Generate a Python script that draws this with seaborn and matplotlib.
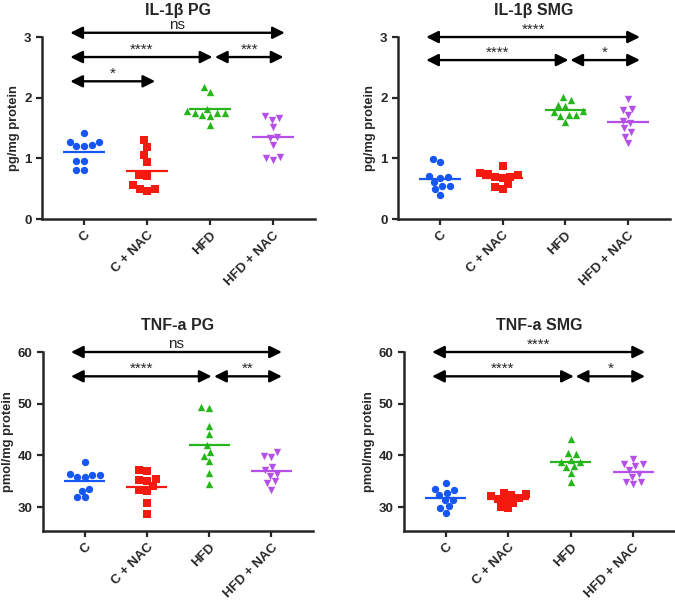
import numpy as np
import matplotlib
matplotlib.use("Agg")
import matplotlib.pyplot as plt
import seaborn as sns

custom_params = {"axes.spines.right": False, "axes.spines.top": False}
sns.set_theme(style="ticks", rc=custom_params)
plt.rcParams['font.family'] = ['Liberation Sans', 'DejaVu Sans']

groups = ["C", "C + NAC", "HFD", "HFD + NAC"]
colors = ["#1556F5", "#F41A0F", "#26B51A", "#B44FE8"]
markers = ["o", "s", "^", "v"]

# IL-1b PG (pg/mg protein)
il1b_pg_c = [1.41, 1.27, 1.27, 1.22, 1.20, 1.20, 0.96, 0.96, 0.81, 0.81]
il1b_pg_cnac = [1.30, 1.19, 1.05, 0.94, 0.71, 0.72, 0.56, 0.49, 0.49, 0.46]
il1b_pg_hfd = [2.18, 2.10, 1.81, 1.78, 1.75, 1.75, 1.74, 1.71, 1.70, 1.55]
il1b_pg_hfdnac = [1.69, 1.67, 1.64, 1.52, 1.36, 1.33, 1.22, 1.03, 1.01, 0.97]

# IL-1b SMG (pg/mg protein)
il1b_smg_c = [0.99, 0.94, 0.71, 0.70, 0.68, 0.61, 0.55, 0.54, 0.49, 0.40]
il1b_smg_cnac = [0.87, 0.76, 0.74, 0.72, 0.70, 0.69, 0.67, 0.58, 0.53, 0.49]
il1b_smg_hfd = [2.01, 1.96, 1.88, 1.87, 1.78, 1.77, 1.71, 1.71, 1.69, 1.60]
il1b_smg_hfdnac = [1.97, 1.81, 1.80, 1.71, 1.62, 1.58, 1.50, 1.44, 1.36, 1.25]

# TNF-a PG (pmol/mg protein)
tnf_pg_c = [38.8, 36.4, 36.2, 36.2, 35.9, 35.8, 33.6, 33.2, 31.9, 31.9]
tnf_pg_cnac = [37.2, 37.0, 35.4, 35.2, 35.0, 34.1, 33.4, 33.2, 30.8, 28.7]
tnf_pg_hfd = [49.3, 49.1, 45.7, 44.1, 42.0, 40.7, 39.9, 38.9, 36.7, 34.5]
tnf_pg_hfdnac = [40.6, 39.9, 39.7, 37.8, 37.2, 36.5, 36.1, 35.0, 34.6, 33.4]

# TNF-a SMG (pmol/mg protein)
tnf_smg_c = [34.7, 33.6, 33.4, 32.8, 32.4, 31.4, 31.4, 30.2, 29.9, 28.9]
tnf_smg_cnac = [32.8, 32.6, 32.3, 32.1, 31.8, 31.5, 31.3, 30.9, 30.1, 29.8]
tnf_smg_hfd = [43.1, 40.5, 40.2, 39.2, 38.8, 38.7, 37.9, 37.7, 36.6, 34.9]
tnf_smg_hfdnac = [39.4, 38.3, 38.3, 37.9, 37.2, 36.5, 35.9, 34.9, 34.9, 34.5]

# comparisons: (left x, right x, y, label)
il1b_pg_sig = [(-0.22, 3.19, 3.07, "ns"), (-0.22, 2.04, 2.67, "****"),
               (2.08, 3.17, 2.67, "***"), (-0.22, 1.13, 2.27, "*")]
il1b_smg_sig = [(-0.22, 3.19, 3.0, "****"), (-0.22, 2.05, 2.62, "****"),
                (2.08, 3.19, 2.62, "*")]
tnf_pg_sig = [(-0.22, 3.17, 60.0, "ns"), (-0.22, 2.04, 55.3, "****"),
              (2.08, 3.17, 55.3, "**")]
tnf_smg_sig = [(-0.22, 3.19, 60.0, "****"), (-0.22, 2.05, 55.3, "****"),
               (2.08, 3.19, 55.3, "*")]

panels = [
    ("IL-1β PG", "pg/mg protein", [il1b_pg_c, il1b_pg_cnac, il1b_pg_hfd, il1b_pg_hfdnac],
     il1b_pg_sig, (0, 3), [0, 1, 2, 3], [0.0622, 0.635, 0.4044, 0.3033]),
    ("IL-1β SMG", "pg/mg protein", [il1b_smg_c, il1b_smg_cnac, il1b_smg_hfd, il1b_smg_hfdnac],
     il1b_smg_sig, (0, 3), [0, 1, 2, 3], [0.5896, 0.635, 0.403, 0.3033]),
    ("TNF-a PG", "pmol/mg protein", [tnf_pg_c, tnf_pg_cnac, tnf_pg_hfd, tnf_pg_hfdnac],
     tnf_pg_sig, (25.4, 60), [30, 40, 50, 60], [0.0637, 0.115, 0.40, 0.2983]),
    ("TNF-a SMG", "pmol/mg protein", [tnf_smg_c, tnf_smg_cnac, tnf_smg_hfd, tnf_smg_hfdnac],
     tnf_smg_sig, (25.4, 60), [30, 40, 50, 60], [0.5985, 0.115, 0.4015, 0.2983]),
]

fig = plt.figure(figsize=(6.75, 6), dpi=100)

for title, ylabel, series, sig, ylim, yticks, rect in panels:
    ax = fig.add_axes(rect)
    for i, vals in enumerate(series):
        sns.swarmplot(x=[groups[i]] * len(vals), y=vals, order=groups, color=colors[i],
                      marker=markers[i], size=5.3, ax=ax, linewidth=0)
        ax.hlines(np.mean(vals), i - 0.33, i + 0.33, color=colors[i], lw=1.6, zorder=3)

    for x1, x2, y, label in sig:
        ax.annotate("", xy=(x2, y), xytext=(x1, y),
                    arrowprops=dict(arrowstyle="<|-|>", color="black", lw=1.7,
                                    mutation_scale=18, shrinkA=0, shrinkB=0),
                    annotation_clip=False)
        ax.annotate(label, xy=((x1 + x2) / 2, y), xytext=(0, 0.5), textcoords="offset points",
                    ha="center", va="bottom", fontsize=11, annotation_clip=False)

    ax.set_xlim(-0.67, 3.67)
    ax.set_ylim(*ylim)
    ax.set_yticks(yticks)
    ax.set_title(title, fontsize=11.5, fontweight="bold", pad=16)
    ax.set_ylabel(ylabel, fontsize=9.3, fontweight="bold", labelpad=3)
    ax.set_xlabel("")
    for s in ["left", "bottom"]:
        ax.spines[s].set_linewidth(1.8)
    ax.tick_params(axis="both", length=4, width=1.6, labelsize=9.5)
    for lbl in ax.get_yticklabels():
        lbl.set_fontweight("bold")
    ax.set_xticks(range(len(groups)))
    ax.set_xticklabels(groups, rotation=45, ha="right", rotation_mode="anchor",
                       fontweight="bold", fontsize=9.5)

plt.savefig("out.png", dpi=100)
plt.close()
